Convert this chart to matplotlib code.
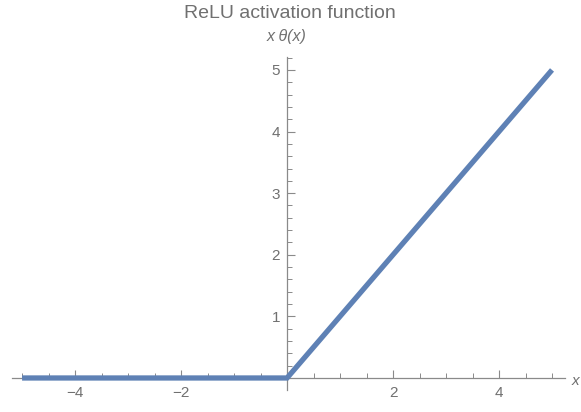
import matplotlib
matplotlib.use("Agg")
import matplotlib.pyplot as plt
from matplotlib.ticker import MultipleLocator, FixedLocator

# ReLU sampled at its corners
x = [-5, 0, 5]
y = [0, 0, 5]
x_ticks = [-4, -2, 2, 4]
y_ticks = [1, 2, 3, 4, 5]

LINE = "#5e81b5"
GRAY = "#8a8a8a"
TEXT = "#707070"

plt.rcParams["font.family"] = ["Liberation Sans", "DejaVu Sans"]

fig = plt.figure(figsize=(5.81, 4.12), dpi=100)
ax = fig.add_axes([12 / 581, 22 / 412, 553 / 581, 333 / 412])
ax.set_xlim(-5.19, 5.245)
ax.set_ylim(-0.195, 5.21)

ax.plot(x, y, color=LINE, lw=3.8, solid_capstyle="butt", solid_joinstyle="miter",
        clip_on=False, zorder=3)

for side in ("top", "right"):
    ax.spines[side].set_visible(False)
ax.spines["left"].set_position(("data", 0))
ax.spines["bottom"].set_position(("data", 0))
for side in ("left", "bottom"):
    ax.spines[side].set_color(GRAY)
    ax.spines[side].set_linewidth(0.9)

ax.xaxis.set_major_locator(FixedLocator(x_ticks))
ax.xaxis.set_minor_locator(MultipleLocator(0.5))
ax.yaxis.set_major_locator(FixedLocator(y_ticks))
ax.yaxis.set_minor_locator(MultipleLocator(0.2))
ax.tick_params(axis="x", which="both", direction="in", colors=GRAY, labelcolor=TEXT,
               labelsize=11, pad=6)
ax.tick_params(axis="y", which="both", direction="in", colors=GRAY, labelcolor=TEXT,
               labelsize=11, pad=5)
ax.tick_params(which="major", length=6, width=0.8)
ax.tick_params(which="minor", length=3.5, width=0.7)
ax.set_xticklabels(["\u22124", "\u22122", "2", "4"])
ax.patch.set_visible(False)

fig.text(572 / 581, 1 - 381 / 412, "x", color=TEXT, fontsize=11, style="italic",
         ha="left", va="center")
fig.text(287 / 581, 1 - 37 / 412, "x \u03b8(x)", color=TEXT, fontsize=11.5,
         style="italic", ha="center", va="center")
fig.text(290 / 581, 1 - 13 / 412, "ReLU activation function", color=TEXT,
         fontsize=14, ha="center", va="center")

fig.savefig("out.png", dpi=100)
